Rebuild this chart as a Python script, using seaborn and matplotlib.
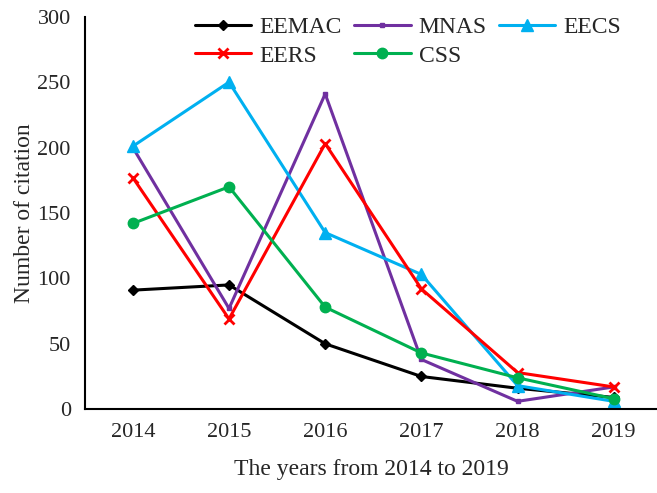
import pandas as pd
import numpy as np
import matplotlib
matplotlib.use('Agg')
import matplotlib.pyplot as plt
import seaborn as sns

# data
years = ['2014', '2015', '2016', '2017', '2018', '2019']
eemac = [91, 95, 50, 25, 16, 9]
mnas = [200, 77, 241, 38, 6, 17]
eecs = [201, 250, 135, 103, 18, 6]
eers = [177, 69, 203, 92, 28, 17]
css = [142, 170, 78, 43, 24, 8]

series = {'EEMAC': eemac, 'MNAS': mnas, 'EECS': eecs, 'EERS': eers, 'CSS': css}
colors = {'EEMAC': '#000000', 'MNAS': '#7030A0', 'EECS': '#00B0F0', 'EERS': '#FF0000', 'CSS': '#00B050'}
markers = {'EEMAC': 'D', 'MNAS': 's', 'EECS': '^', 'EERS': 'x', 'CSS': 'o'}
msizes = {'EEMAC': 5, 'MNAS': 3.5, 'EECS': 8, 'EERS': 7, 'CSS': 7.5}

sns.set_style('white')
plt.rcParams['font.family'] = ['Liberation Serif', 'DejaVu Serif']

fig = plt.figure(figsize=(6.57, 4.93), dpi=100)
ax = fig.add_axes([0.129, 0.170, 0.871, 0.796])

for name, vals in series.items():
    df = pd.DataFrame({'year': years, 'n': vals})
    sns.lineplot(data=df, x='year', y='n', ax=ax, color=colors[name], marker=markers[name],
                 markersize=msizes[name], markeredgecolor=colors[name],
                 markeredgewidth=2 if name == 'EERS' else 1,
                 linewidth=2.2, label=name)

ax.set_ylim(0, 300)
ax.set_yticks(np.arange(0, 301, 50))
ax.set_xlim(-0.5, 5.45)
ax.tick_params(axis='both', labelsize=16, length=0, pad=10)
ax.set_xlabel('The years from 2014 to 2019', fontsize=17, labelpad=12)
ax.set_ylabel('Number of citation', fontsize=17, labelpad=2)
for s in ['top', 'right']:
    ax.spines[s].set_visible(False)
for s in ['left', 'bottom']:
    ax.spines[s].set_color('black')
    ax.spines[s].set_linewidth(1.5)

h, l = ax.get_legend_handles_labels()
d = dict(zip(l, h))
order = ['EEMAC', 'EERS', 'MNAS', 'CSS', 'EECS']
ax.legend([d[k] for k in order], order, ncol=3, loc='upper center', bbox_to_anchor=(0.565, 1.055),
          frameon=False, fontsize=17, handlelength=2.4, columnspacing=0.5, handletextpad=0.35,
          labelspacing=0.3)

plt.savefig('out.png', dpi=100)
